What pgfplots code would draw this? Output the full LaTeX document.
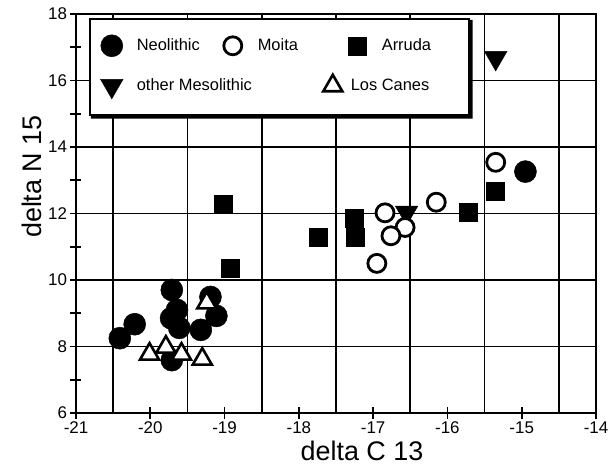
\documentclass[border=0pt]{standalone}
\usepackage{pgfplots}
\pgfplotsset{compat=1.18}
\usepackage{fontspec}
\setmainfont{Liberation Sans}
\pgfplotsset{
  neo/.style={only marks, mark=*, mark size=11bp, mark options={fill=black, draw=black, line width=0.5bp}},
  moi/.style={only marks, mark=*, mark size=9bp, mark options={fill=white, draw=black, line width=2.8bp}},
  arr/.style={only marks, mark=square*, mark size=9bp, mark options={fill=black, draw=black, line width=0.5bp}},
  mes/.style={only marks, mark=triangle*, mark size=13bp, mark options={rotate=180, fill=black, draw=black, line width=0.5bp}},
  can/.style={only marks, mark=triangle*, mark size=11bp, mark options={fill=white, draw=black, line width=2.6bp, line join=miter}},
  canleg/.style={can, legend image code/.code={\path[draw=none, fill=none] (0bp,-10bp) rectangle (24bp,10bp); \draw[##1, overlay] plot coordinates {(-12bp,0bp)};}},
}
\begin{document}
\begin{tikzpicture}
\begin{axis}[
  scale only axis, width=520bp, height=399bp,
  xmin=-21, xmax=-14, ymin=6, ymax=18,
  xtick={-21,-20,-19,-18,-17,-16,-15,-14},
  xticklabels={-21,-20,-19,-18,-17,-16,-15,-14},
  ytick={6,8,10,12,14,16,18},
  yticklabels={6,8,10,12,14,16,18},
  minor ytick={7,9,11,13,15,17},
  minor xtick={-20.5,-19.5,-18.5,-17.5,-16.5,-15.5,-14.5},
  xminorgrids=true,
  minor x tick style={draw=none},
  ymajorgrids,
  xtick pos=bottom, ytick pos=left,
  tick align=center,
  major tick length=11bp, minor tick length=11bp,
  axis line style={line width=2.2bp},
  tick style={line width=1.8bp, black},
  major grid style={line width=1.7bp, black},
  minor grid style={line width=1.7bp, black},
  tick label style={font=\fontsize{17}{20}\selectfont},
  label style={font=\fontsize{27}{30}\selectfont},
  xlabel={delta C 13}, ylabel={delta N 15},
  xlabel style={at={(ticklabel cs:0.55)}},
  ylabel style={at={(ticklabel cs:0.6)}, xshift=-3bp},
  legend columns=3,
  legend image code/.code={\path[draw=none, fill=none] (0bp,-10bp) rectangle (24bp,10bp); \draw[#1] plot coordinates {(12bp,0bp)};},
  legend style={name=leg, at={(0.025,0.99)}, anchor=north west, draw=black, line width=1.6bp,
    fill=white, inner xsep=10bp, inner ysep=16bp, column sep=13bp, row sep=19bp,
    font=\fontsize{16.5}{19}\selectfont,
    nodes={inner sep=0bp}},
]
\addlegendimage{neo}\addlegendentry{\makebox[71bp][l]{Neolithic}}
\addlegendimage{moi}\addlegendentry{\makebox[74bp][l]{Moita}}
\addlegendimage{arr}\addlegendentry{\makebox[77bp][l]{Arruda}}
\addlegendimage{mes}\addlegendentry{\makebox[71bp][l]{other Mesolithic}}
\addlegendimage{empty legend}\addlegendentry{}
\addlegendimage{canleg}
\addlegendentry{\makebox[77bp][l]{\hspace*{-31bp}Los Canes}}

\addplot[neo, forget plot] coordinates {
(-19.71,9.70) (-19.64,9.10) (-19.72,8.85) (-19.61,8.56) (-19.32,8.50)
(-19.11,8.92) (-19.19,9.49) (-20.21,8.67) (-20.41,8.25) (-19.71,7.59)
(-14.95,13.26)};
\addplot[arr, forget plot] coordinates {
(-15.36,12.66) (-15.72,12.04) (-17.26,11.87) (-17.24,11.30) (-17.74,11.30)
(-19.02,12.29) (-18.93,10.35)};
\addplot[mes, forget plot] coordinates {
(-16.55,12.03) (-15.35,16.68)};
\addplot[moi, forget plot] coordinates {
(-15.35,13.54) (-16.84,12.02) (-16.15,12.34) (-16.57,11.58) (-16.76,11.33)
(-16.95,10.50)};
\addplot[can, forget plot] coordinates {
(-20.01,7.77) (-19.79,7.98) (-19.58,7.77) (-19.30,7.62) (-19.24,9.31)};
\end{axis}
\fill[black] ([xshift=2bp]leg.south west) -- ([xshift=2bp,yshift=-3bp]leg.south west)
  -- ([xshift=3bp,yshift=-3bp]leg.south east) -- ([xshift=3bp,yshift=-2bp]leg.north east)
  -- ([yshift=-2bp]leg.north east) -- (leg.south east) -- cycle;
\pgfresetboundingbox
\path (-76bp,-60bp) rectangle (535bp,413bp);
\end{tikzpicture}
\end{document}
